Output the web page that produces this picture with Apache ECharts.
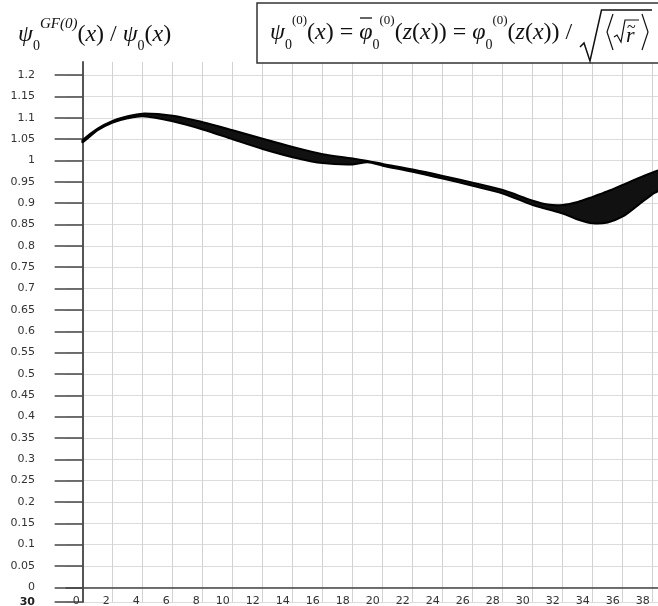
<!DOCTYPE html>
<html>
<head>
<meta charset="utf-8">
<script src="https://cdn.jsdelivr.net/npm/echarts@6/dist/echarts.min.js"></script>
<style>
  html, body { margin: 0; padding: 0; background: #fff; }
  #chart { width: 658px; height: 606px; }
</style>
</head>
<body>
<div id="chart"></div>
<script>
const xs =    [0, 1, 2, 3, 4, 6, 8, 10, 12, 14, 16, 18, 19, 20, 22, 24, 26, 28, 30, 31, 32, 33, 34, 35, 36, 37, 38, 38.4];
// upper / lower edge of the family of curves
const upper = [1.048, 1.075, 1.093, 1.104, 1.110, 1.105, 1.090, 1.071, 1.051, 1.032, 1.015, 1.005, 0.999, 0.992, 0.979, 0.964, 0.948, 0.931, 0.906, 0.897, 0.896, 0.903, 0.915, 0.928, 0.943, 0.958, 0.972, 0.976];
const lower = [1.043, 1.071, 1.089, 1.099, 1.104, 1.092, 1.073, 1.050, 1.027, 1.008, 0.994, 0.991, 0.996, 0.988, 0.974, 0.958, 0.941, 0.923, 0.896, 0.886, 0.876, 0.862, 0.853, 0.855, 0.869, 0.895, 0.922, 0.931];

const xTicks = [0, 2, 4, 6, 8, 10, 12, 14, 16, 18, 20, 22, 24, 26, 28, 30, 32, 34, 36, 38];
const yTicks = [-0.0345, 0, 0.05, 0.1, 0.15, 0.2, 0.25, 0.3, 0.35, 0.4, 0.45, 0.5, 0.55, 0.6,
                0.65, 0.7, 0.75, 0.8, 0.85, 0.9, 0.95, 1, 1.05, 1.1, 1.15, 1.2];

const chart = echarts.init(document.getElementById("chart"));

const tickFont = { fontFamily: "DejaVu Sans", fontSize: 11, color: "#333" };
const serif = "Liberation Serif";

// band between the upper and lower edges, drawn as one smoothed polygon
const renderBand = (params, api) => {
  if (params.dataIndex !== 0) return null;
  const top = xs.map((x, i) => api.coord([x, upper[i]]));
  const bottom = xs.map((x, i) => api.coord([x, lower[i]])).reverse();
  return {
    type: "polygon",
    shape: { points: top.concat(bottom), smooth: 0.3 },
    style: { fill: "#111", stroke: "#000", lineWidth: 2, lineJoin: "round" },
  };
};

const options = {
  animation: false,
  grid: {
    left: 66, right: 0, top: 62, bottom: 4,
    containLabel: false,
    outerBoundsMode: "none",
  },
  xAxis: {
    type: "value",
    min: -1.11,
    max: 38.35,
    axisLine: { show: true, lineStyle: { color: "#444", width: 1.5 } },
    axisTick: { show: false, customValues: xTicks },
    axisLabel: {
      ...tickFont,
      customValues: xTicks,
      align: "right",
      verticalAlign: "middle",
      padding: [0, 3, 0, 0],
      margin: -1,
    },
    splitLine: { show: true, lineStyle: { color: "#d2d2d2", width: 1 } },
  },
  yAxis: {
    type: "value",
    min: -0.0345,
    max: 1.231,
    axisLine: { show: true, lineStyle: { color: "#555", width: 2 } },
    axisTick: { show: true, length: 28, customValues: yTicks, lineStyle: { color: "#444", width: 1.5 } },
    axisLabel: {
      ...tickFont,
      customValues: yTicks,
      margin: 31,
      formatter: (v) => (v < 0 ? "{b|30}" : String(v)),
      rich: { b: { fontFamily: "DejaVu Sans", fontSize: 11, fontWeight: "bold", color: "#222" } },
    },
    splitLine: { show: true, lineStyle: { color: "#dcdcdc", width: 1 } },
  },
  series: [
    {
      name: "band",
      type: "custom",
      renderItem: renderBand,
      clip: true,
      data: xs.map((x, i) => [x, upper[i]]),
    },
  ],
  graphic: [
    // left title
    {
      type: "text", left: 18, top: 17, z: 10,
      style: {
        text: "{m|ψ}{sb|0}{sp|GF(0)}{r|(}{m|x}{r|) / }{m|ψ}{sb|0}{r|(}{m|x}{r|)}",
        rich: {
          m: { fontFamily: serif, fontStyle: "italic", fontSize: 24, lineHeight: 36, fill: "#111" },
          r: { fontFamily: serif, fontSize: 24, lineHeight: 36, fill: "#111" },
          sb: { fontFamily: serif, fontSize: 14, lineHeight: 20, verticalAlign: "bottom", fill: "#111" },
          sp: { fontFamily: serif, fontStyle: "italic", fontSize: 15, lineHeight: 8, verticalAlign: "top", fill: "#111" },
        },
      },
    },
    // formula box
    {
      type: "rect", z: 9,
      shape: { x: 257, y: 3, width: 402, height: 60 },
      style: { fill: "#fff", stroke: "#333", lineWidth: 1.5 },
    },
    {
      type: "text", left: 270, top: 14, z: 10,
      style: {
        text: "{m|ψ}{sb|0}{sp|(0)}{r|(}{m|x}{r|) = }{m|φ}{sb|0}{sp|(0)}{r|(}{m|z}{r|(}{m|x}{r|)) = }{m|φ}{sb|0}{sp|(0)}{r|(}{m|z}{r|(}{m|x}{r|)) / }",
        rich: {
          m: { fontFamily: serif, fontStyle: "italic", fontSize: 24, lineHeight: 38, fill: "#111" },
          r: { fontFamily: serif, fontSize: 24, lineHeight: 38, fill: "#111" },
          sb: { fontFamily: serif, fontSize: 14, lineHeight: 22, verticalAlign: "bottom", fill: "#111" },
          sp: { fontFamily: serif, fontSize: 13, lineHeight: 14, verticalAlign: "top", fill: "#111" },
        },
      },
    },
    // bar over the second phi
    {
      type: "line", z: 10,
      shape: { x1: 360, y1: 18, x2: 372, y2: 18 },
      style: { stroke: "#111", lineWidth: 1.3 },
    },
    // big radical
    {
      type: "polyline", z: 10,
      shape: { points: [[580, 47], [584, 43], [590, 61], [601.5, 10], [652, 10]] },
      style: { stroke: "#111", lineWidth: 1.5, fill: null },
    },
    // angle brackets
    {
      type: "polyline", z: 10,
      shape: { points: [[613, 14], [607, 32], [613, 50]] },
      style: { stroke: "#111", lineWidth: 1.2, fill: null },
    },
    {
      type: "polyline", z: 10,
      shape: { points: [[642, 14], [648, 32], [642, 50]] },
      style: { stroke: "#111", lineWidth: 1.2, fill: null },
    },
    // inner radical
    {
      type: "polyline", z: 10,
      shape: { points: [[614, 37], [617, 35], [621, 42], [625, 20], [639, 20]] },
      style: { stroke: "#111", lineWidth: 1.2, fill: null },
    },
    {
      type: "text", left: 626, top: 25, z: 10,
      style: { text: "r", fontFamily: serif, fontStyle: "italic", fontSize: 22, fill: "#111" },
    },
    {
      type: "text", left: 627, top: 20, z: 10,
      style: { text: "~", fontFamily: serif, fontSize: 16, fill: "#111" },
    },
  ],
};

chart.setOption(options);

window.addEventListener("resize", () => chart.resize());
</script>
</body>
</html>
